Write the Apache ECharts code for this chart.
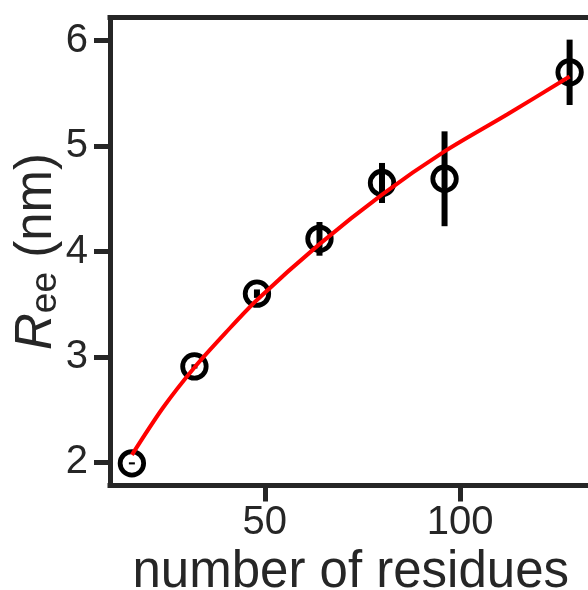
<!DOCTYPE html>
<html><head><meta charset="utf-8">
<script src="https://cdn.jsdelivr.net/npm/echarts@6/dist/echarts.min.js"></script>
<style>html,body{margin:0;padding:0;background:#fff}#c{width:588px;height:590px}</style>
</head><body><div id="c"></div>
<script>
// measured data
const residues = [16, 32, 48, 64, 80, 96, 128];
const ree = [1.99, 2.91, 3.60, 4.12, 4.65, 4.69, 5.70];
const reeErr = [0.01, 0.02, 0.04, 0.16, 0.19, 0.45, 0.31];
// fitted curve
const fitResidues = [16, 24, 32, 40, 48, 64, 80, 96, 112, 128];
const fitRee = [2.07, 2.52, 2.90, 3.23, 3.54, 4.07, 4.54, 4.95, 5.30, 5.66];
// ticks
const xTicks = [50, 100];
const yTicks = [2, 3, 4, 5, 6];

const FONT = "'Liberation Sans', Arial, sans-serif";
const AX = '#262626';

const chart = echarts.init(document.getElementById('c'), null, {renderer: 'canvas'});
const points = residues.map((x, i) => [x, ree[i], reeErr[i]]);
const fit = fitResidues.map((x, i) => [x, fitRee[i]]);

chart.setOption({
  animation: false,
  backgroundColor: '#fff',
  grid: {left: 110, right: -3.5, top: 17.5, bottom: 104.5, containLabel: false, outerBoundsMode: 'none'},
  xAxis: [{
    type: 'value', min: 10.4, max: 133.6, position: 'bottom',
    axisLine: {show: true, onZero: false, lineStyle: {color: AX, width: 5, cap: 'square'}},
    axisTick: {show: true, length: 16, customValues: xTicks, lineStyle: {color: AX, width: 5}},
    axisLabel: {customValues: xTicks, fontSize: 40, color: AX, fontFamily: FONT, margin: 17},
    splitLine: {show: false},
    name: 'number of residues', nameLocation: 'middle', nameGap: 60,
    nameTextStyle: {fontSize: 51, color: AX, fontFamily: FONT}
  }, {
    type: 'value', min: 10.4, max: 133.6, position: 'top',
    axisLine: {show: true, onZero: false, lineStyle: {color: AX, width: 5, cap: 'square'}},
    axisTick: {show: false}, axisLabel: {show: false}, splitLine: {show: false}
  }],
  yAxis: [{
    type: 'value', min: 1.78, max: 6.22, position: 'left',
    axisLine: {show: true, onZero: false, lineStyle: {color: AX, width: 5, cap: 'square'}},
    axisTick: {show: true, length: 16, customValues: yTicks, lineStyle: {color: AX, width: 5}},
    axisLabel: {customValues: yTicks, fontSize: 40, color: AX, fontFamily: FONT, margin: 22},
    splitLine: {show: false},
    name: '{r|R}{s|ee}{n| (nm)}', nameLocation: 'middle', nameGap: 46, nameRotate: 90,
    nameMoveOverlap: false,
    nameTextStyle: {
      color: AX, fontFamily: FONT,
      rich: {
        r: {fontSize: 51, fontStyle: 'italic', color: AX, fontFamily: FONT, lineHeight: 54, verticalAlign: 'middle'},
        s: {fontSize: 37, color: AX, fontFamily: FONT, lineHeight: 30, verticalAlign: 'bottom'},
        n: {fontSize: 51, color: AX, fontFamily: FONT, lineHeight: 54, verticalAlign: 'middle'}
      }
    }
  }],
  series: [{
    type: 'scatter', data: points, xAxisIndex: 0, yAxisIndex: 0,
    encode: {x: 0, y: 1},
    symbol: 'circle', symbolSize: 23.5,
    itemStyle: {color: 'rgba(0,0,0,0)', borderColor: '#000', borderWidth: 4.8, opacity: 1},
    z: 2
  }, {
    type: 'custom', data: points, xAxisIndex: 0, yAxisIndex: 0,
    encode: {x: 0, y: 1},
    renderItem: function (params, api) {
      const x = api.value(0), y = api.value(1), e = api.value(2);
      const p1 = api.coord([x, y - e]);
      const p2 = api.coord([x, y + e]);
      return {type: 'line', shape: {x1: p1[0], y1: p1[1], x2: p2[0], y2: p2[1]},
        style: {stroke: '#000', lineWidth: 6, lineCap: 'butt'}};
    },
    z: 3
  }, {
    type: 'line', data: fit, xAxisIndex: 0, yAxisIndex: 0,
    smooth: 0.3, showSymbol: false, symbol: 'none',
    lineStyle: {color: '#ff0000', width: 4},
    z: 4
  }]
});
</script>
</body></html>
